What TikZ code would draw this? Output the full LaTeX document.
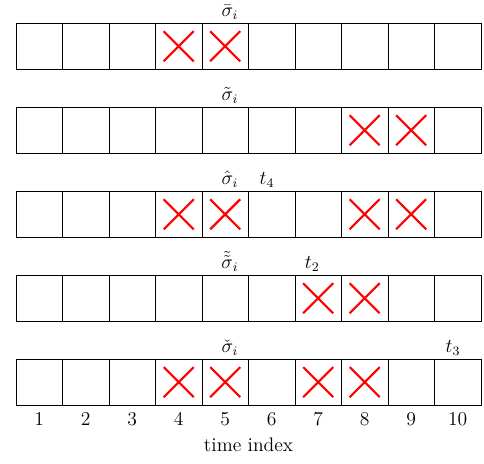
\documentclass[tikz,border=0pt]{standalone}
\usetikzlibrary{shapes.misc}
\begin{document}
\begin{tikzpicture}[font=\fontsize{12}{14}\selectfont,
  cell/.style={draw, minimum size=1cm, inner sep=0pt, line width=0.5pt},
  markx/.style={cross out, draw=red, minimum size=0.6cm, inner sep=0pt, line width=1.3pt},
  lab/.style={anchor=base, inner sep=0pt}]
\useasboundingbox (-0.344,0) rectangle (10.065,-9.978);
\foreach \r/\t in {1/-0.4946, 2/-2.301, 3/-4.108, 4/-5.914, 5/-7.720} {
  \foreach \i in {1,...,10} {
    \node[cell] (c\r-\i) at (\i-0.5, \t-0.5) {};
  }
}
\foreach \r/\i in {1/4,1/5,2/8,2/9,3/4,3/5,3/8,3/9,4/7,4/8,5/4,5/5,5/7,5/8} {
  \node[markx] (x\r-\i) at (c\r-\i) {};
}
\node[lab] (s1) at (4.60,-0.3646) {$\bar\sigma_i$};
\node[lab] (s2) at (4.60,-2.171) {$\tilde\sigma_i$};
\node[lab] (s3) at (4.60,-3.978) {$\hat\sigma_i$};
\node[lab] (t4) at (5.40,-3.978) {$t_4$};
\node[lab] (s4) at (4.60,-5.784) {$\tilde{\tilde\sigma}_i$};
\node[lab] (t2) at (6.37,-5.784) {$t_2$};
\node[lab] (s5) at (4.60,-7.590) {$\check\sigma_i$};
\node[lab] (t3) at (9.40,-7.590) {$t_3$};
\foreach \i in {1,...,10} {
  \node[lab] (n\i) at (\i-0.5,-9.161) {\i};
}
\node[lab] (ti) at (5,-9.72) {time index};
\end{tikzpicture}
\end{document}
